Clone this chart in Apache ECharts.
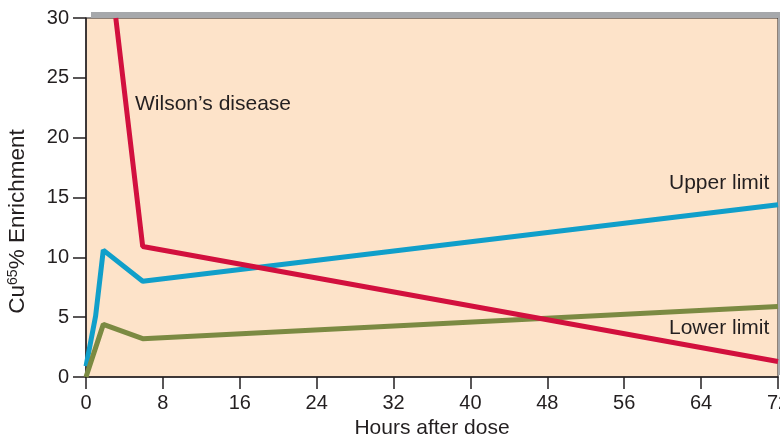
<!DOCTYPE html>
<html><head><meta charset="utf-8">
<script src="https://cdn.jsdelivr.net/npm/echarts@6/dist/echarts.min.js"></script>
<style>html,body{margin:0;padding:0;background:#fff}#c{width:780px;height:436px}</style>
</head><body><div id="c"></div>
<script>
// Data (hours, Cu65 % enrichment)
const wilsonHours = [3.1, 5.9, 72];
const wilsonValues = [30, 10.9, 1.3];
const upperHours = [0, 1.0, 1.8, 5.9, 72];
const upperValues = [0.9, 5.1, 10.6, 8.0, 14.4];
const lowerHours = [0, 1.8, 5.9, 72];
const lowerValues = [0, 4.4, 3.2, 5.9];
const xTicks = [0, 8, 16, 24, 32, 40, 48, 56, 64, 72];
const yTicks = [0, 5, 10, 15, 20, 25, 30];
const labelWilson = "Wilson’s disease";
const labelUpper = "Upper limit";
const labelLower = "Lower limit";

const G = {left: 86, right: 2, top: 18, bottom: 59};
const W = 780, H = 436;
const font = "Liberation Sans, Arial, sans-serif";
const txt = "#231f20";

function pairs(xs, ys) { return xs.map((x, i) => [x, ys[i]]); }

const chart = echarts.init(document.getElementById('c'));
chart.setOption({
  animation: false,
  textStyle: {fontFamily: font},
  grid: {left: G.left, right: G.right, top: G.top, bottom: G.bottom, show: true,
         containLabel: false, outerBoundsMode: 'none',
         backgroundColor: '#fde3c9', borderColor: '#231f20', borderWidth: 1},
  graphic: [
    {type: 'rect', z: 0, shape: {x: G.left + 5, y: G.top - 6, width: W - G.left - 5, height: 6}, style: {fill: '#a6a8ab'}},
    {type: 'rect', z: 0, shape: {x: W - G.right, y: G.top - 6, width: G.right, height: H - G.bottom - G.top + 4}, style: {fill: '#a6a8ab'}}
  ],
  xAxis: {
    type: 'value', min: xTicks[0], max: xTicks[xTicks.length - 1], interval: 8,
    name: 'Hours after dose', nameLocation: 'middle', nameGap: 37,
    nameTextStyle: {fontSize: 21, color: txt, fontFamily: font},
    axisLine: {show: true, lineStyle: {color: txt, width: 1.5}},
    axisTick: {show: true, length: 12, lineStyle: {color: txt, width: 1.5}},
    axisLabel: {fontSize: 20, color: txt, margin: 16, showMaxLabel: true},
    splitLine: {show: false}
  },
  yAxis: {
    type: 'value', min: yTicks[0], max: yTicks[yTicks.length - 1], interval: 5,
    name: 'Cu{sup|65}% Enrichment', nameLocation: 'middle', nameGap: 56,
    nameTextStyle: {fontSize: 22.5, color: txt, fontFamily: font, padding: [0, 48, 0, 0],
      rich: {sup: {fontSize: 14, verticalAlign: 'top', padding: [0,0,10,0], color: txt, fontFamily: font}}},
    axisLine: {show: true, lineStyle: {color: txt, width: 1.5}},
    axisTick: {show: true, length: 13, lineStyle: {color: txt, width: 1.5}},
    axisLabel: {fontSize: 20, color: txt, margin: 17},
    splitLine: {show: false}
  },
  series: [
    {type: 'line', data: pairs(upperHours, upperValues), symbol: 'none', lineStyle: {color: '#109fca', width: 5}, z: 3,
     markPoint: {symbolSize: 0, data: [{coord: [71.1, 16.2]}],
       label: {show: true, formatter: labelUpper, position: 'inside', align: 'right', fontSize: 21, color: txt, fontFamily: font}}},
    {type: 'line', data: pairs(lowerHours, lowerValues), symbol: 'none', lineStyle: {color: '#7b8a42', width: 5}, z: 3,
     markPoint: {symbolSize: 0, data: [{coord: [71.1, 4.1]}],
       label: {show: true, formatter: labelLower, position: 'inside', align: 'right', fontSize: 21, color: txt, fontFamily: font}}},
    {type: 'line', data: pairs(wilsonHours, wilsonValues), symbol: 'none', lineStyle: {color: '#d2103e', width: 5}, z: 4,
     markPoint: {symbolSize: 0, data: [{coord: [5.1, 22.8]}],
       label: {show: true, formatter: labelWilson, position: 'inside', align: 'left', fontSize: 21, color: txt, fontFamily: font}}}
  ]
});
</script></body></html>
